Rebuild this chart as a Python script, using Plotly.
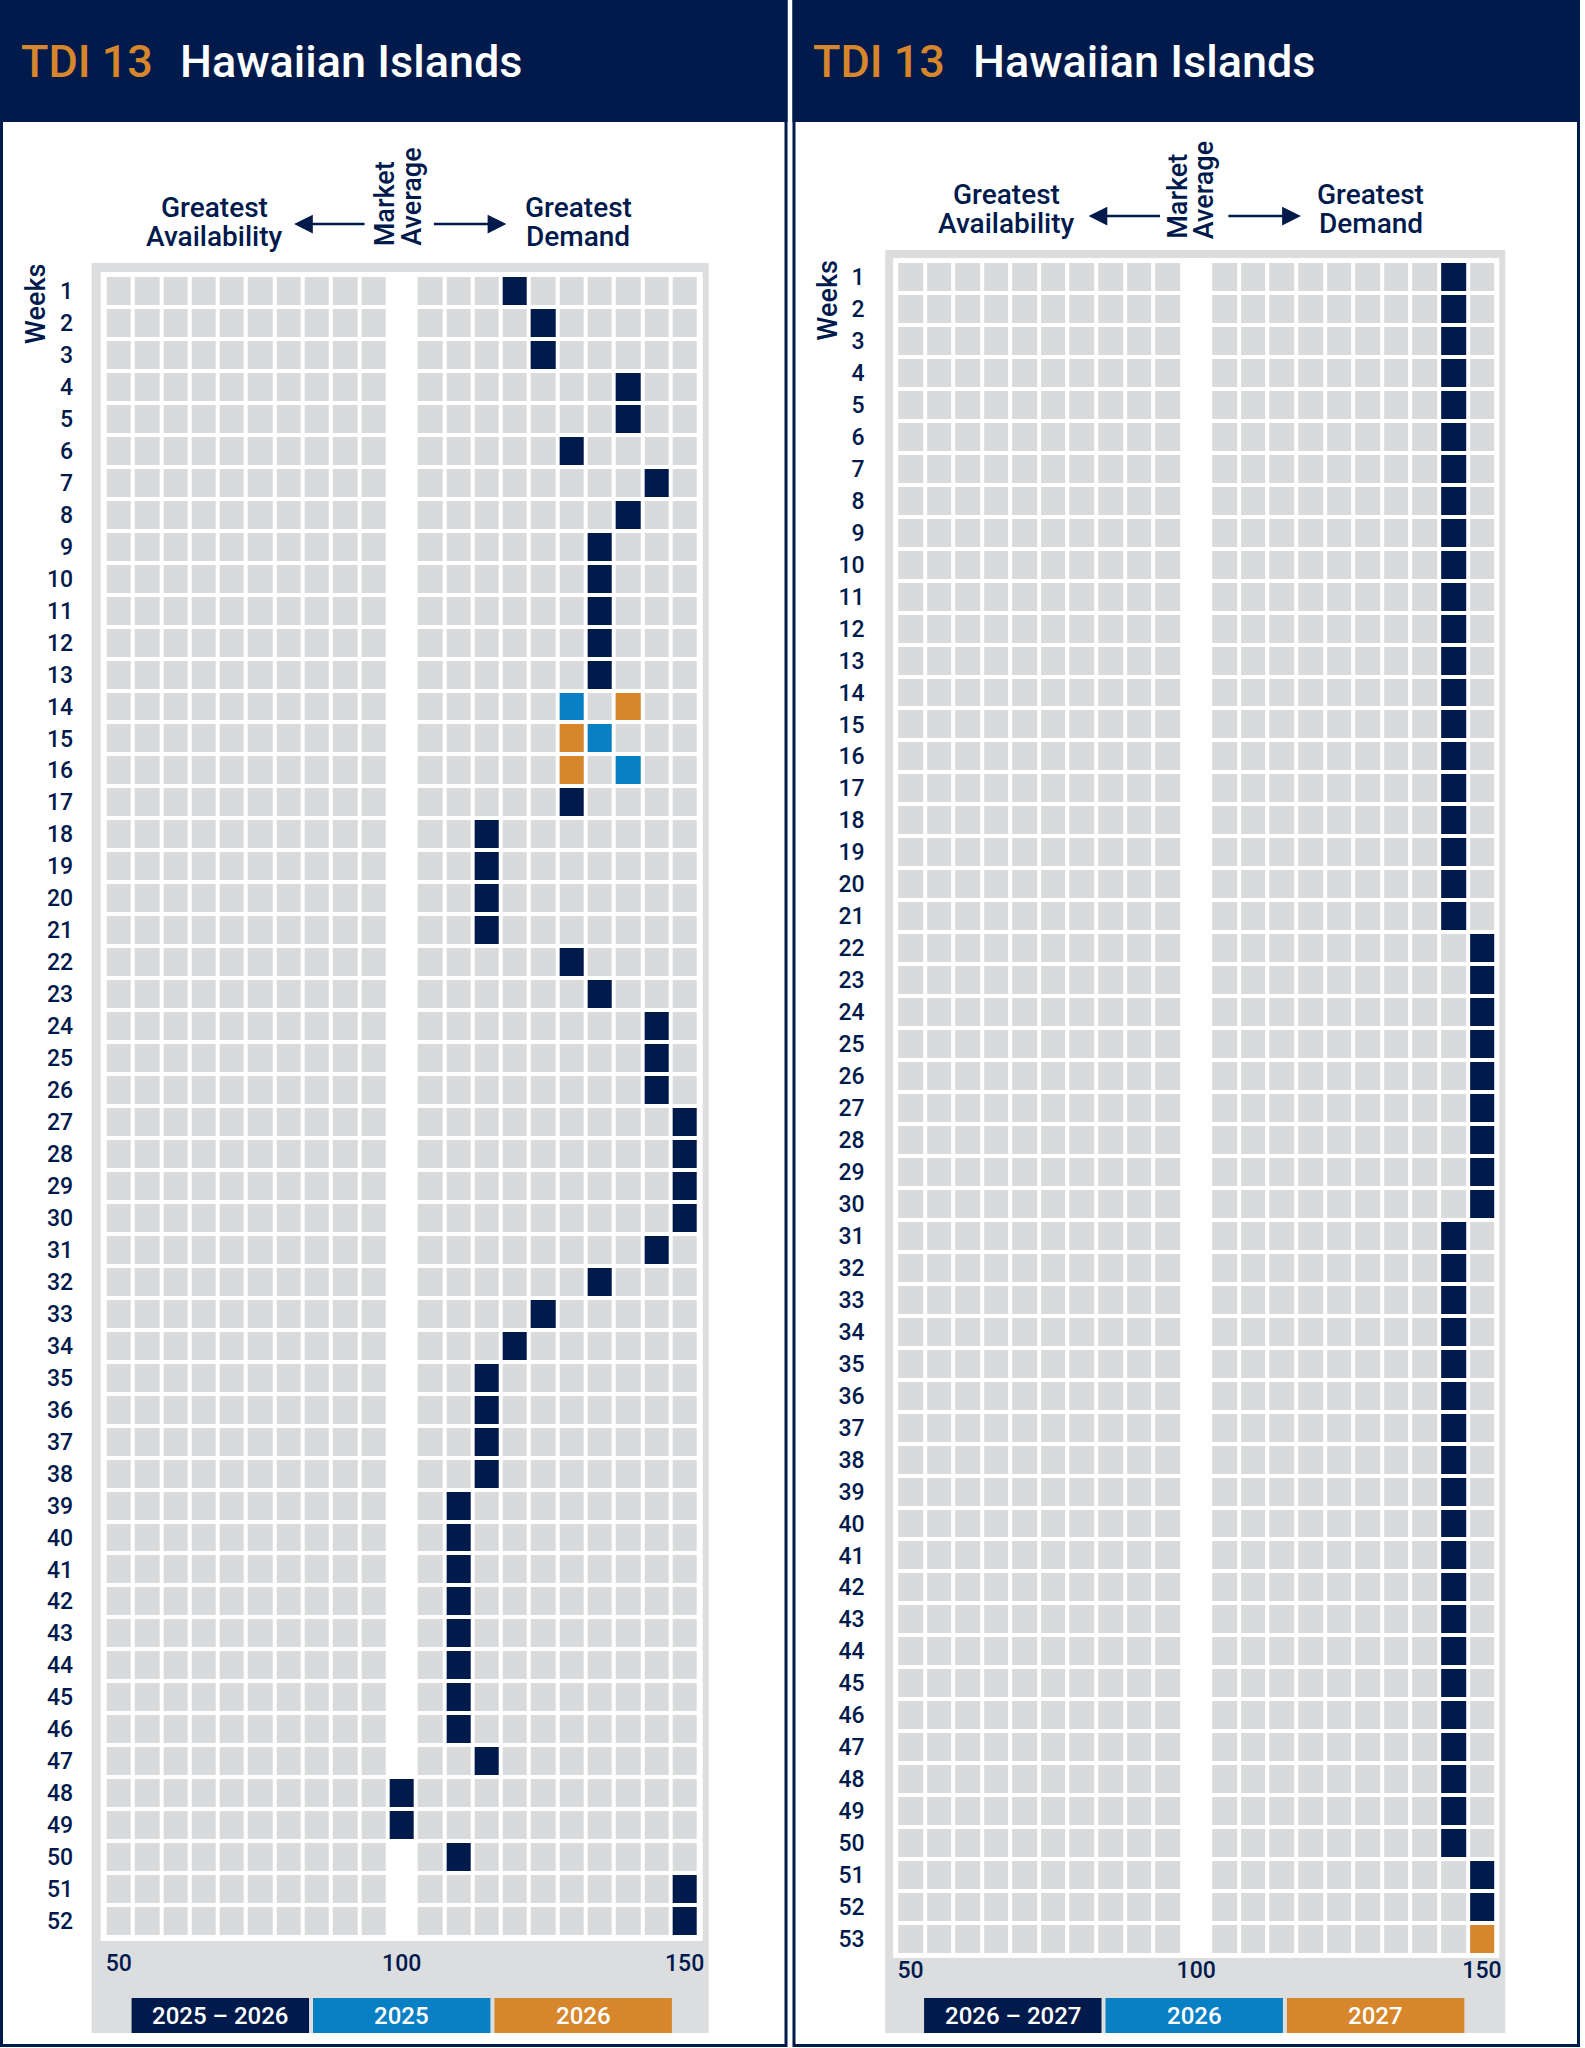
import plotly.graph_objects as go

# ---------------- data ----------------
index_levels = [50, 55, 60, 65, 70, 75, 80, 85, 90, 95, 100,
                105, 110, 115, 120, 125, 130, 135, 140, 145, 150]
market_average = 100
axis_tick_vals = [50, 100, 150]
axis_tick_text = ["50", "100", "150"]

weeks_left = list(range(1, 53))
weeks_right = list(range(1, 54))

# Left panel: 2025 - 2026 (one value per week, None = not shown)
left_2025_2026 = [120, 125, 125, 140, 140, 130, 145, 140, 135, 135,
                  135, 135, 135, None, None, None, 130, 115, 115, 115,
                  115, 130, 135, 145, 145, 145, 150, 150, 150, 150,
                  145, 135, 125, 120, 115, 115, 115, 115, 110, 110,
                  110, 110, 110, 110, 110, 110, 115, 100, 100, 110,
                  150, 150]
left_2025_weeks = [14, 15, 16]
left_2025_vals = [130, 135, 140]
left_2026_weeks = [14, 15, 16]
left_2026_vals = [140, 130, 130]

# Right panel: 2026 - 2027
right_2026_2027 = [145, 145, 145, 145, 145, 145, 145, 145, 145, 145,
                   145, 145, 145, 145, 145, 145, 145, 145, 145, 145,
                   145, 150, 150, 150, 150, 150, 150, 150, 150, 150,
                   145, 145, 145, 145, 145, 145, 145, 145, 145, 145,
                   145, 145, 145, 145, 145, 145, 145, 145, 145, 145,
                   150, 150, None]
right_2026_weeks = []
right_2026_vals = []
right_2027_weeks = [53]
right_2027_vals = [150]

title_code = "TDI 13"
title_name = "Hawaiian Islands"
legend_left = ["2025 \u2013 2026", "2025", "2026"]
legend_right = ["2026 \u2013 2027", "2026", "2027"]

# ---------------- styles ----------------
NAVY = "#001a4c"
BLUE = "#0a80c4"
ORANGE = "#d7862c"
CELL_GRAY = "#d9dadb"
FRAME_GRAY = "#dcdddf"
FONT = "Roboto, Liberation Sans, Arial, sans-serif"
WEIGHT = 500

W, H = 1585, 2048


def px(x):
    return x / W


def py(y):
    return 1 - y / H


def matrix_from_series(weeks, vals, n_weeks):
    z = [[None] * len(index_levels) for _ in range(n_weeks)]
    for w, v in zip(weeks, vals):
        if v is None:
            continue
        z[w - 1][index_levels.index(v)] = 1
    return z


def background_matrix(n_weeks):
    z = []
    for _ in range(n_weeks):
        row = []
        for lv in index_levels:
            row.append(None if lv == market_average else 0)
        z.append(row)
    return z


fig = go.Figure()

XGAP, YGAP = 4, 4


def add_panel(xa, ya, weeks, series):
    fig.add_trace(go.Heatmap(
        x=index_levels, y=weeks, z=background_matrix(len(weeks)),
        colorscale=[[0, CELL_GRAY], [1, CELL_GRAY]], showscale=False,
        xgap=XGAP, ygap=YGAP, hoverinfo="skip", xaxis=xa, yaxis=ya))
    for wks, vals, color in series:
        fig.add_trace(go.Heatmap(
            x=index_levels, y=weeks,
            z=matrix_from_series(wks, vals, len(weeks)),
            colorscale=[[0, color], [1, color]], showscale=False,
            zmin=0, zmax=1,
            xgap=XGAP, ygap=YGAP, hoverinfo="skip", xaxis=xa, yaxis=ya))


add_panel("x", "y", weeks_left, [
    (weeks_left, left_2025_2026, NAVY),
    (left_2025_weeks, left_2025_vals, BLUE),
    (left_2026_weeks, left_2026_vals, ORANGE),
])
add_panel("x2", "y2", weeks_right, [
    (weeks_right, right_2026_2027, NAVY),
    (right_2026_weeks, right_2026_vals, BLUE),
    (right_2027_weeks, right_2027_vals, ORANGE),
])

tickfont = dict(family=FONT, size=23, color=NAVY, weight=WEIGHT)


def xaxis_cfg(x0, x1, anchor, standoff):
    return dict(domain=[px(x0), px(x1)], range=[47.5, 152.5],
                tickvals=axis_tick_vals, ticktext=axis_tick_text,
                tickfont=tickfont, showgrid=False, zeroline=False,
                showline=False, ticks="", ticklabelstandoff=standoff,
                anchor=anchor, fixedrange=True)


def yaxis_cfg(y0, y1, n, anchor):
    return dict(domain=[py(y1), py(y0)], range=[n + 0.5, 0.5],
                tickvals=list(range(1, n + 1)),
                ticktext=[str(i) for i in range(1, n + 1)],
                tickfont=tickfont, showgrid=False, zeroline=False,
                showline=False, ticks="outside", ticklen=26,
                tickcolor="rgba(0,0,0,0)", anchor=anchor, fixedrange=True)


shapes = []
annotations = []


def text_ann(text, x, y, size, color=NAVY, xanchor="center", yanchor="middle", angle=0):
    annotations.append(dict(text=text, x=px(x), y=py(y), xref="paper", yref="paper",
                            xanchor=xanchor, yanchor=yanchor, textangle=angle,
                            showarrow=False,
                            font=dict(family=FONT, size=size, color=color, weight=WEIGHT)))


def panel_decor(ox, grid, legend_labels, line_ys, ma_bottom, ma_xs, arrows, weeks_y):
    # panel border and header
    shapes.append(dict(type="rect", xref="paper", yref="paper",
                       x0=px(ox + 1.5), x1=px(ox + 788.5), y0=py(2045.5), y1=py(1.5),
                       line=dict(color=NAVY, width=3), fillcolor="white", layer="below"))
    shapes.append(dict(type="rect", xref="paper", yref="paper",
                       x0=px(ox), x1=px(ox + 790), y0=py(122), y1=py(0),
                       line=dict(width=0), fillcolor=NAVY, layer="below"))
    fx0, fx1, fy0, fy1, wx0, wx1, wy0, wy1 = grid
    shapes.append(dict(type="rect", xref="paper", yref="paper",
                       x0=px(fx0), x1=px(fx1), y0=py(fy1), y1=py(fy0),
                       line=dict(width=0), fillcolor=FRAME_GRAY, layer="below"))
    shapes.append(dict(type="rect", xref="paper", yref="paper",
                       x0=px(wx0), x1=px(wx1), y0=py(wy1), y1=py(wy0),
                       line=dict(width=0), fillcolor="white", layer="below"))
    # title
    text_ann(title_code, ox + 19, 61, 45, ORANGE, xanchor="left")
    text_ann(title_name, ox + 179, 61, 45, "white", xanchor="left")
    # direction labels
    y1, y2 = line_ys
    text_ann("Greatest", ox + 215, y1, 28)
    text_ann("Availability", ox + 215, y2, 28)
    text_ann("Greatest", ox + 580, y1, 28)
    text_ann("Demand", ox + 580, y2, 28)
    text_ann("Market", ox + ma_xs[0], ma_bottom, 27, yanchor="bottom", angle=-90)
    text_ann("Average", ox + ma_xs[1], ma_bottom, 27, yanchor="bottom", angle=-90)
    for tip, tail, ay in arrows:
        annotations.append(dict(text="", x=px(tip), y=py(ay), xref="paper", yref="paper",
                                ax=tail - tip, ay=0, showarrow=True, arrowhead=2,
                                arrowsize=1.5, arrowwidth=2.5, arrowcolor=NAVY,
                                standoff=0, startstandoff=0))
    text_ann("Weeks", ox + 36, weeks_y, 27, angle=-90)
    # legend boxes
    colors = [NAVY, BLUE, ORANGE]
    lx0 = ox + (132 if ox == 0 else 927 - 795)
    for i, (lab, col) in enumerate(zip(legend_labels, colors)):
        x0 = lx0 + i * 182
        x1 = x0 + 178
        shapes.append(dict(type="rect", xref="paper", yref="paper",
                           x0=px(x0), x1=px(x1), y0=py(2033), y1=py(1998),
                           line=dict(width=0), fillcolor=col, layer="below"))
        text_ann(lab, (x0 + x1) / 2, 2016, 24, "white")


panel_decor(0, (92, 711, 263, 2033, 101, 705, 272, 1941), legend_left, (207, 236), 248,
            (386, 413), [(295, 367, 224), (508, 434, 224)], 304)
panel_decor(795, (888, 1510, 250, 2033, 896, 1504, 258, 1958), legend_right, (194, 223), 241,
            (1181 - 795, 1208 - 795), [(1092, 1165, 216), (1305, 1231, 216)], 300)

fig.update_layout(
    width=W, height=H, autosize=False,
    margin=dict(l=0, r=0, t=0, b=0),
    paper_bgcolor="white", plot_bgcolor="rgba(0,0,0,0)",
    showlegend=False,
    xaxis=xaxis_cfg(105, 701, "y", 10),
    yaxis=yaxis_cfg(275, 1937, 52, "x"),
    xaxis2=xaxis_cfg(899, 1501, "y2", -1),
    yaxis2=yaxis_cfg(261, 1955, 53, "x2"),
    shapes=shapes, annotations=annotations,
)

fig.write_html("out.html", config={"displayModeBar": False},
               post_script="document.body.style.margin='0';")
